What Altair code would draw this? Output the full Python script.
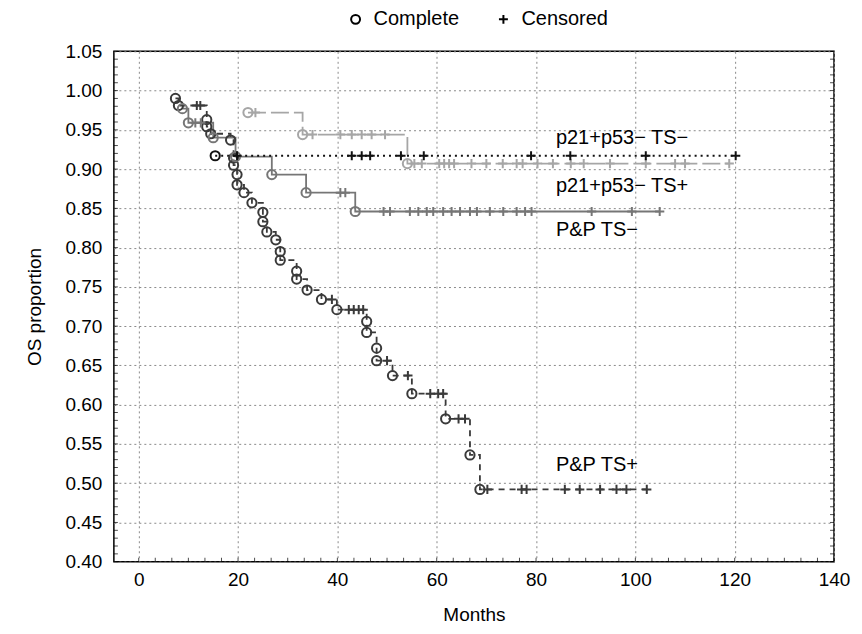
import altair as alt
import pandas as pd

# ---------------- data ----------------
series_names = ["P&P TS+", "P&P TS−", "p21+p53− TS+", "p21+p53− TS−"]
series_colors = ["#3a3a3a", "#767676", "#a6a6a6", "#111111"]
series_dash = [[6, 5], [1, 0], [18, 5], [2, 4]]

# P&P TS+
pp_pos_t = [7.4, 8.0, 13.7, 13.7, 14.5, 18.5, 19.1, 19.1, 19.8, 19.8, 21.2, 22.8, 25.0, 25.0,
            25.8, 27.6, 28.5, 28.5, 31.8, 31.8, 33.9, 36.8, 39.9, 45.9, 45.9, 47.9, 47.9,
            51.1, 55.0, 61.8, 66.7, 68.7]
pp_pos_s = [0.990, 0.981, 0.963, 0.954, 0.945, 0.937, 0.914, 0.905, 0.893, 0.880, 0.870, 0.857,
            0.845, 0.833, 0.820, 0.810, 0.795, 0.784, 0.770, 0.760, 0.746, 0.734, 0.721, 0.706,
            0.692, 0.672, 0.656, 0.637, 0.614, 0.582, 0.536, 0.492]
pp_pos_c = [11.7, 12.4, 38.9, 42.3, 43.3, 44.3, 45.2, 50.0, 54.2, 58.7, 60.3, 61.3, 64.4, 65.7,
            70.2, 77.1, 78.1, 85.8, 88.8, 92.9, 96.2, 98.2, 102.3]

# P&P TS-
pp_neg_t = [8.8, 10.0, 15.0, 19.5, 26.8, 33.7, 43.6]
pp_neg_s = [0.977, 0.959, 0.940, 0.916, 0.893, 0.870, 0.846]
pp_neg_c = [11.4, 12.5, 40.6, 41.6, 49.3, 50.6, 54.6, 56.3, 58.0, 59.3, 61.3, 63.0, 64.7, 66.7,
            68.1, 70.7, 73.4, 76.1, 77.8, 79.1, 91.2, 99.3, 104.9]

# p21+p53- TS+
p21_pos_t = [22.0, 33.0, 54.1]
p21_pos_s = [0.972, 0.944, 0.907]
p21_pos_c = [23.5, 35.0, 40.6, 42.9, 44.9, 46.9, 49.6, 55.5, 57.0, 60.5, 61.5, 62.5, 63.5,
             67.0, 70.0, 73.3, 76.1, 77.3, 80.3, 83.4, 87.0, 89.6, 94.9, 102.1, 108.0,
             110.0, 118.9]

# p21+p53- TS-
p21_neg_t = [15.4]
p21_neg_s = [0.917]
p21_neg_c = [19.8, 42.9, 44.9, 46.6, 52.8, 57.4, 79.0, 86.9, 102.1, 120.2]

label_text = ["p21+p53− TS−", "p21+p53− TS+", "P&P TS−", "P&P TS+"]
label_x = [84.0, 84.0, 84.0, 84.0]
label_y = [0.940, 0.879, 0.823, 0.523]

x_ticks = [0, 20, 40, 60, 80, 100, 120, 140]
y_ticks = [0.40, 0.45, 0.50, 0.55, 0.60, 0.65, 0.70, 0.75, 0.80, 0.85, 0.90, 0.95, 1.00, 1.05]
x_minor = [round(i * 20 / 6, 3) for i in range(43)]
y_minor = [round(0.40 + i * 0.01, 2) for i in range(66)]

# ---------------- build tables ----------------
all_series = [
    (pp_pos_t, pp_pos_s, pp_pos_c),
    (pp_neg_t, pp_neg_s, pp_neg_c),
    (p21_pos_t, p21_pos_s, p21_pos_c),
    (p21_neg_t, p21_neg_s, p21_neg_c),
]


def level_at(ts, ss, t):
    lvl = 1.0
    for ti, si in zip(ts, ss):
        if ti <= t:
            lvl = si
    return lvl


line_rows, mark_rows = [], []
for name, (ts, ss, cs) in zip(series_names, all_series):
    k = 0
    for t, s in zip(ts, ss):
        line_rows.append({"series": name, "t": t, "s": s, "k": k})
        k += 1
        mark_rows.append({"series": name, "t": t, "s": s, "kind": "Complete"})
    end_t = max(cs[-1], ts[-1])
    line_rows.append({"series": name, "t": end_t, "s": ss[-1], "k": k})
    for c in cs:
        mark_rows.append({"series": name, "t": c, "s": level_at(ts, ss, c), "kind": "Censored"})

lines_df = pd.DataFrame(line_rows)
marks_df = pd.DataFrame(mark_rows)
labels_df = pd.DataFrame({"text": label_text, "t": label_x, "s": label_y})
xminor_df = pd.DataFrame({"t": x_minor})
yminor_df = pd.DataFrame({"s": y_minor})

FONT = "Liberation Sans"
FS = 19
W, H = 721, 511
xscale = alt.Scale(domain=[-5, 140], nice=False, zero=False)
yscale = alt.Scale(domain=[0.40, 1.05], nice=False, zero=False)
color_scale = alt.Scale(domain=series_names, range=series_colors)
dash_scale = alt.Scale(domain=series_names, range=series_dash)

common = dict(domain=False, labelFont=FONT, titleFont=FONT, labelColor="black",
              titleColor="black", titleFontWeight="normal", labelFontSize=FS, titleFontSize=FS,
              labelOverlap=False, labelFlush=False, tickCount=40)
xaxis = alt.Axis(values=x_ticks, title="Months", grid=True, gridDash=[2, 3], gridColor="#8a8a8a",
                 gridWidth=1, ticks=False, labelPadding=9, titlePadding=16, **common)
yaxis = alt.Axis(values=y_ticks, format=".2f", title="OS proportion", grid=True, gridDash=[2, 3],
                 gridColor="#8a8a8a", gridWidth=1, ticks=False, labelPadding=12,
                 titlePadding=20, **common)

lines = alt.Chart(lines_df).mark_line(interpolate="step-after", strokeWidth=1.8).encode(
    x=alt.X("t:Q", scale=xscale, axis=xaxis),
    y=alt.Y("s:Q", scale=yscale, axis=yaxis),
    color=alt.Color("series:N", scale=color_scale, legend=None),
    strokeDash=alt.StrokeDash("series:N", scale=dash_scale, legend=None),
    order="k:Q",
    detail="series:N",
)

# small inward minor ticks on the frame
tick_left = alt.Chart(yminor_df).mark_tick(orient="horizontal", size=4, thickness=1,
                                           color="black").encode(
    y=alt.Y("s:Q", scale=yscale), x=alt.value(2))
tick_right = alt.Chart(yminor_df).mark_tick(orient="horizontal", size=4, thickness=1,
                                            color="black").encode(
    y=alt.Y("s:Q", scale=yscale), x=alt.value(W - 2))
tick_bottom = alt.Chart(xminor_df).mark_tick(orient="vertical", size=4, thickness=1,
                                             color="black").encode(
    x=alt.X("t:Q", scale=xscale), y=alt.value(H - 2))

PLUS = "M-1,0H1M0,-1V1"
marks = alt.Chart(marks_df).mark_point(filled=False, strokeWidth=2, opacity=1, size=85).encode(
    x=alt.X("t:Q", scale=xscale),
    y=alt.Y("s:Q", scale=yscale),
    color=alt.Color("series:N", scale=color_scale, legend=None),
    shape=alt.Shape("kind:N", scale=alt.Scale(domain=["Complete", "Censored"], range=["circle", PLUS]),
                    legend=alt.Legend(title=None, orient="none", direction="horizontal",
                                      legendX=232, legendY=-42, labelFontSize=20, labelFont=FONT,
                                      labelColor="black", symbolStrokeColor="black",
                                      symbolStrokeWidth=2, symbolSize=80, columnPadding=34,
                                      symbolFillColor="transparent", labelOffset=8)),
)

labels = alt.Chart(labels_df).mark_text(align="left", baseline="middle", fontSize=20,
                                        font=FONT, color="black").encode(
    x=alt.X("t:Q", scale=xscale),
    y=alt.Y("s:Q", scale=yscale),
    text="text:N",
)

chart = alt.layer(lines, tick_left, tick_right, tick_bottom, marks, labels).properties(
    width=W, height=H,
    background="white",
    autosize=alt.AutoSizeParams(type="none"),
    padding={"left": 106, "top": 43, "right": 20, "bottom": 70},
).configure_view(stroke="black", strokeWidth=1.5)

chart.save("out.html", embed_options={"renderer": "svg", "actions": False})
